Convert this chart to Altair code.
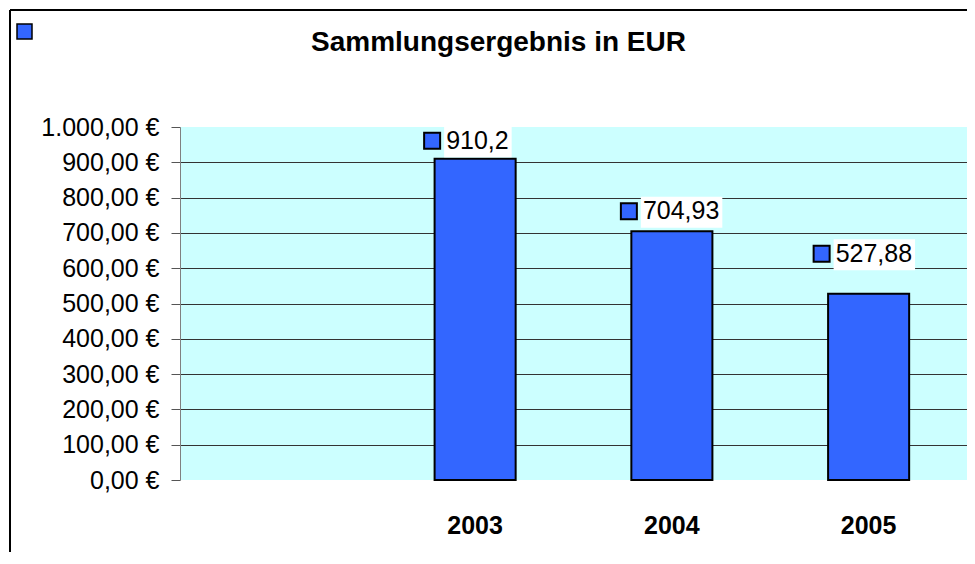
import altair as alt
import pandas as pd

# ---- data ----
years = ["2003", "2004", "2005"]
values = [910.2, 704.93, 527.88]
categories = ["", "2003", "2004", "2005"]          # Excel keeps an empty first category
tick_values = [0, 100, 200, 300, 400, 500, 600, 700, 800, 900, 1000]
series_name = [" "]                                 # unnamed series in the legend
title_text = "Sammlungsergebnis in EUR"

# label placement tweaks (pixels), as moved by hand in the original
label_dx = {"2003": 0, "2004": 0, "2005": -4}
label_dy = {"2003": -18, "2004": -20, "2005": -40}

df = pd.DataFrame({"year": years, "value": values, "series": series_name * len(years)})
df["dx"] = df["year"].map(label_dx)
df["dy"] = df["year"].map(label_dy)

FONT = "Liberation Sans"
BLUE = "#3366FF"
W, H = 787, 353
YMAX = 1000
STEP = W / len(categories)
PAD_IN = 0.588
HALF_BAND = STEP * (1 - PAD_IN) / 2   # xOffset is measured from the band start

base = alt.Chart(df).transform_calculate(
    label="replace(format(datum.value, '.2~f'), '.', ',')"
).transform_calculate(
    boxw="13.9*(length(datum.label)-1) + 6.95 + 5"
).transform_calculate(
    hw="datum.boxw/2/15.5",
    text_dx=f"{HALF_BAND} - 29 + datum.dx",
    sq_dx=f"{HALF_BAND} - 43 + datum.dx",
    box_dx=f"{HALF_BAND} - 31 + datum.boxw/2 + datum.dx",
    text_y=f"datum.value - datum.dy * {YMAX} / {H}",
    box_y=f"datum.value - (datum.dy + 1) * {YMAX} / {H}",
).transform_calculate(
    boxpath="'M' + (-datum.hw) + ',-1H' + datum.hw + 'V1H' + (-datum.hw) + 'Z'"
)

x_scale = alt.Scale(domain=categories, paddingInner=PAD_IN, paddingOuter=PAD_IN / 2)
x_axis = alt.Axis(
    title=None, ticks=False, domain=False, labelAngle=0,
    labelFont=FONT, labelFontSize=25, labelFontWeight="bold",
    labelColor="black", labelPadding=33,
)

y_label_expr = (
    "replace(replace(replace(format(datum.value, ',.2f'), ',', '#'), '.', ','), '#', '.') + ' €'"
)
y_scale = alt.Scale(domain=[0, YMAX], nice=False, zero=True)
y_axis = alt.Axis(
    title=None, values=tick_values, labelExpr=y_label_expr, labelOverlap=False,
    labelFont=FONT, labelFontSize=25, labelColor="black", labelPadding=12,
    tickSize=9, tickColor="#555555", tickWidth=1,
    domainColor="#808080", domainWidth=1,
    grid=True, gridColor="#333333", gridWidth=1,
    gridOpacity=alt.condition("datum.value == 0 || datum.value == 1000",
                              alt.value(0), alt.value(1)),
)


def xe():
    return alt.X("year:N", scale=x_scale, axis=x_axis)


def ye(field):
    return alt.Y(field, scale=y_scale, axis=y_axis)


bars = base.mark_bar(stroke="black", strokeWidth=2).encode(
    x=xe(),
    y=ye("value:Q"),
    color=alt.Color(
        "series:N",
        scale=alt.Scale(range=[BLUE]),
        legend=alt.Legend(
            orient="none", legendX=-164, legendY=-104, title=None,
            labelExpr="''", symbolType="square", symbolSize=225,
            symbolStrokeColor="black", symbolStrokeWidth=1.5,
            symbolFillColor=BLUE, padding=0, labelFontSize=1,
        ),
    ),
)

boxes = base.mark_point(filled=True, fill="white", stroke=None, opacity=1).encode(
    x=xe(),
    y=ye("box_y:Q"),
    xOffset=alt.XOffset("box_dx:Q", scale=None),
    shape=alt.Shape("boxpath:N", scale=None, legend=None),
    size=alt.value(961),
)

squares = base.mark_point(
    shape="square", filled=True, fill=BLUE, stroke="black", strokeWidth=2, opacity=1
).encode(
    x=xe(),
    y=ye("text_y:Q"),
    xOffset=alt.XOffset("sq_dx:Q", scale=None),
    size=alt.value(256),
)

labels = base.mark_text(
    align="left", baseline="middle", font=FONT, fontSize=25, color="black"
).encode(
    x=xe(),
    y=ye("text_y:Q"),
    xOffset=alt.XOffset("text_dx:Q", scale=None),
    text="label:N",
)

frame_df = pd.DataFrame({"k": [0]})
frame_top = alt.Chart(frame_df).mark_rule(color="black", strokeWidth=2).encode(
    x=alt.value(-170), x2=alt.value(W + 20), y=alt.value(-117)
)
frame_left = alt.Chart(frame_df).mark_rule(color="black", strokeWidth=2).encode(
    x=alt.value(-170), y=alt.value(-117), y2=alt.value(H + 200)
)

chart = alt.layer(bars, boxes, squares, labels, frame_top, frame_left).properties(
    width=W,
    height=H,
    autosize=alt.AutoSizeParams(type="none"),
    padding={"left": 172, "top": 119, "right": 0, "bottom": 72},
    background="white",
    title=alt.Title(
        title_text, font=FONT, fontSize=28, fontWeight="bold", color="black",
        anchor="middle", frame="bounds", baseline="alphabetic", offset=-70,
    ),
).configure_view(
    fill="#CCFFFF", stroke=None
)

chart.save("out.html", embed_options={"renderer": "svg", "actions": False})
